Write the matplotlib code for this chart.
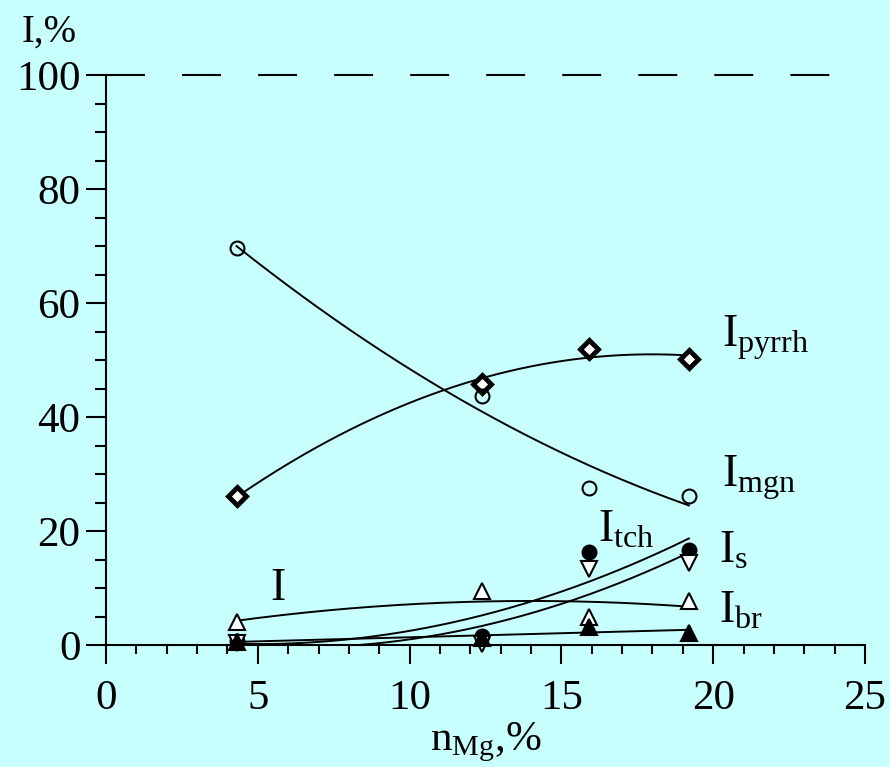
import numpy as np
import matplotlib
matplotlib.use("Agg")
import matplotlib.pyplot as plt
from matplotlib.ticker import MultipleLocator

plt.rcParams["font.family"] = ["Liberation Serif", "DejaVu Serif"]
plt.rcParams["mathtext.fontset"] = "custom"
plt.rcParams["mathtext.rm"] = "Liberation Serif"
plt.rcParams["mathtext.it"] = "Liberation Serif:italic"

# содержание Mg, %
n_mg = [4.3, 12.4, 15.9, 19.2]

# интенсивности, %
i_pyrrh = [26.1, 45.8, 51.9, 50.2]
i_mgn = [69.6, 43.7, 27.5, 26.1]
i_tch = [0.7, 1.6, 16.3, 16.6]
i_s = [0.3, 0.2, 13.4, 14.4]
i_i = [4.0, 9.5, 4.9, 7.8]
i_br = [0.5, 1.3, 3.2, 2.1]

bg = "#C8FFFF"

fig = plt.figure(figsize=(8.9, 7.67), dpi=100, facecolor=bg)
ax = fig.add_axes([106 / 890, 1 - 645 / 767, (865 - 106) / 890, (645 - 75) / 767])
ax.set_facecolor(bg)

ax.set_xlim(0, 25)
ax.set_ylim(0, 100)

# линия 100 %
ax.plot([0, 25], [100, 100], color="black", lw=1.5, ls=(0, (18.7, 17.8)), clip_on=False)

# аппроксимирующие кривые
xs = np.linspace(min(n_mg), max(n_mg), 200)
series = [
    (i_pyrrh, 2, dict(marker="D", ms=9, mfc="white", mec="black", mew=3.5)),
    (i_mgn, 2, dict(marker="o", ms=10, mfc="none", mec="black", mew=1.5)),
    (i_tch, 2, dict(marker="o", ms=10, mfc="black", mec="black", mew=1.5)),
    (i_s, 2, dict(marker="v", ms=11, mfc="white", mec="black", mew=1.5)),
    (i_i, 2, dict(marker="^", ms=11, mfc="white", mec="black", mew=1.5)),
    (i_br, 1, dict(marker="^", ms=11, mfc="black", mec="black", mew=1.5)),
]
for y, deg, style in series:
    coef = np.polyfit(n_mg, y, deg)
    ax.plot(xs, np.polyval(coef, xs), color="black", lw=1.4)
for y, deg, style in series:
    ax.plot(n_mg, y, ls="none", clip_on=False, zorder=5, **style)

# подписи кривых
lab_fs = 33
ax.text(20.3, 52.3, r"$\mathrm{I}_{\mathrm{pyrrh}}$", fontsize=lab_fs, va="baseline")
ax.text(20.3, 27.7, r"$\mathrm{I}_{\mathrm{mgn}}$", fontsize=lab_fs, va="baseline")
ax.text(16.2, 18.1, r"$\mathrm{I}_{\mathrm{tch}}$", fontsize=lab_fs, va="baseline")
ax.text(20.2, 14.4, r"$\mathrm{I}_{\mathrm{s}}$", fontsize=lab_fs, va="baseline")
ax.text(20.2, 3.9, r"$\mathrm{I}_{\mathrm{br}}$", fontsize=lab_fs, va="baseline")
ax.text(5.4, 7.9, "I", fontsize=lab_fs, va="baseline")

# оси
for side in ["top", "right"]:
    ax.spines[side].set_visible(False)
for side in ["left", "bottom"]:
    ax.spines[side].set_linewidth(1.5)

ax.xaxis.set_major_locator(MultipleLocator(5))
ax.xaxis.set_minor_locator(MultipleLocator(1))
ax.yaxis.set_major_locator(MultipleLocator(20))
ax.yaxis.set_minor_locator(MultipleLocator(5))
ax.tick_params(axis="x", which="major", direction="out", length=14, width=1.5,
               labelsize=31, pad=11)
ax.tick_params(axis="x", which="minor", direction="out", length=6.5, width=1.5)
ax.tick_params(axis="y", which="major", direction="out", length=14.4, width=1.5,
               labelsize=31, pad=4)
ax.tick_params(axis="y", which="minor", direction="out", length=8, width=1.5)

fig.text(22 / 890, 1 - 42 / 767, "I,%", fontsize=28, va="baseline", ha="left")
fig.text(485.5 / 890, 1 - 750 / 767, r"$\mathrm{n}_{\mathrm{Mg}}$,%", fontsize=31,
         va="baseline", ha="center")

fig.savefig("out.png", dpi=100, facecolor=bg)
